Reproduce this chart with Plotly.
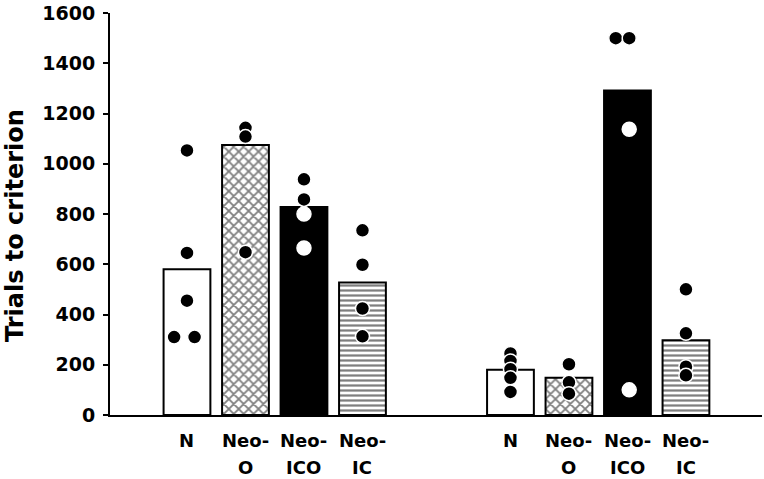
import plotly.graph_objects as go

# ---- data ----
categories = ["N", "Neo-O", "Neo-ICO", "Neo-IC"]
label_line1 = ["N", "Neo-", "Neo-", "Neo-"]
label_line2 = ["", "O", "ICO", "IC"]
group1_means = [580, 1075, 828, 527]
group2_means = [180, 148, 1292, 298]

group1_points = [
    [1053, 645, 455, 310, 310],
    [1143, 1108, 648],
    [938, 858, 800, 665],
    [735, 598, 424, 313],
]
group1_jitter = [
    [0, 0, 0, -0.22, 0.13],
    [0, 0, 0],
    [0, 0, 0, 0],
    [0, 0, 0, 0],
]
group2_points = [
    [245, 215, 182, 148, 92],
    [202, 130, 85],
    [1500, 1500, 1137, 100],
    [500, 325, 192, 158],
]
group2_jitter = [
    [0, 0, 0, 0, 0],
    [0, 0, 0],
    [-0.2, 0.03, 0.03, 0.03],
    [0, 0, 0, 0],
]
y_ticks = [0, 200, 400, 600, 800, 1000, 1200, 1400, 1600]

# ---- layout helpers ----
group1_pos = [0, 1, 2, 3]
group2_pos = [5.53, 6.53, 7.53, 8.53]

cat_color = ["white", "white", "black", "white"]
cat_pattern = ["", "x", "", "-"]
cat_psize = [8, 7, 8, 5]
cat_psolid = [0.3, 0.45, 0.3, 0.45]

FONT = "DejaVu Sans"

fig = go.Figure()
for k, cat in enumerate(categories):
    fig.add_trace(go.Bar(
        x=[group1_pos[k], group2_pos[k]],
        y=[group1_means[k], group2_means[k]],
        width=0.8, name=cat,
        marker=dict(
            color=cat_color[k],
            line=dict(color="black", width=2),
            pattern=dict(shape=cat_pattern[k], fgcolor="black", bgcolor="white",
                         size=cat_psize[k], solidity=cat_psolid[k]),
        ),
        showlegend=False, hoverinfo="skip",
    ))

px_, py_, pc_ = [], [], []
for grp_pos, grp_means, grp_pts, grp_jit in [
    (group1_pos, group1_means, group1_points, group1_jitter),
    (group2_pos, group2_means, group2_points, group2_jitter),
]:
    for k in range(len(categories)):
        for v, j in zip(grp_pts[k], grp_jit[k]):
            px_.append(grp_pos[k] + j)
            py_.append(v)
            inside_black = cat_color[k] == "black" and v < grp_means[k]
            pc_.append("white" if inside_black else "black")

fig.add_trace(go.Scatter(
    x=px_, y=py_, mode="markers",
    marker=dict(size=14, color=pc_, line=dict(color="white", width=1.5)),
    showlegend=False, hoverinfo="skip",
))

annotations = []
for pos, l1, l2 in zip(group1_pos + group2_pos, label_line1 * 2, label_line2 * 2):
    annotations.append(dict(x=pos, y=0, xref="x", yref="y", text=f"<b>{l1}</b>",
                            showarrow=False, yanchor="top", yshift=-13,
                            font=dict(family=FONT, size=18, color="black")))
    if l2:
        annotations.append(dict(x=pos, y=0, xref="x", yref="y", text=f"<b>{l2}</b>",
                                showarrow=False, yanchor="top", yshift=-40,
                                font=dict(family=FONT, size=18, color="black")))

annotations.append(dict(x=-95 / 652, y=0.47, xref="paper", yref="paper",
                        text="<b>Trials to criterion</b>", textangle=-90,
                        showarrow=False, xanchor="center", yanchor="middle",
                        font=dict(family=FONT, size=24, color="black")))

fig.update_layout(
    width=764, height=479,
    margin=dict(l=110, r=2, t=10, b=64),
    plot_bgcolor="white", paper_bgcolor="white",
    annotations=annotations,
    barmode="overlay",
    xaxis=dict(range=[-1.316, 9.83], showline=True, linecolor="black", linewidth=2,
               showgrid=False, zeroline=False, showticklabels=False, ticks=""),
    yaxis=dict(range=[0, 1600], showline=True, linecolor="black", linewidth=2,
               showgrid=False, zeroline=False, ticks="outside", ticklen=5,
               tickwidth=2, tickcolor="black", tickvals=y_ticks,
               ticktext=[f"<b>{t}</b>" for t in y_ticks],
               ticklabeloverflow="allow", ticklabelstandoff=4,
               tickfont=dict(family=FONT, size=19, color="black")),
)

fig.write_html("out.html", config={"displayModeBar": False},
               post_script="document.body.style.margin='0px';document.body.style.overflow='hidden';")
